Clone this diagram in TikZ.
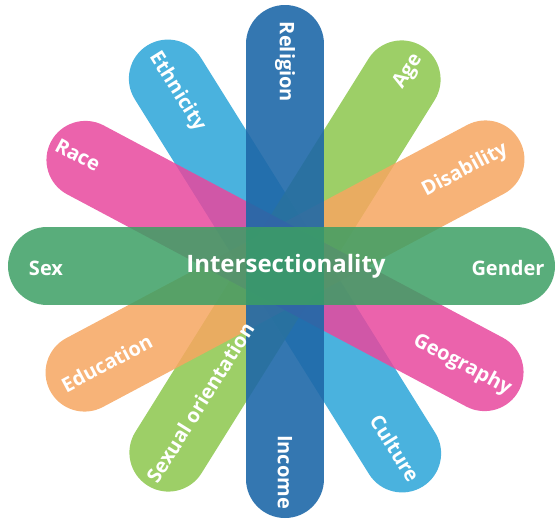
\documentclass[tikz,border=0pt]{standalone}
\usepackage{fontspec}
\setsansfont{Open Sans}
\usepackage{xcolor}

\definecolor{bandblue}{HTML}{1E68A8}
\definecolor{bandgreen}{HTML}{3C9F64}
\definecolor{bandcyan}{HTML}{2AA5D8}
\definecolor{bandpink}{HTML}{E8489E}
\definecolor{bandlime}{HTML}{8CC74C}
\definecolor{bandorange}{HTML}{F6A660}

\tikzset{
	band/.style={line width=78pt, line cap=round, opacity=0.85},
	lbl/.style={text=white, inner sep=0pt, font=\sffamily\bfseries\fontsize{20}{20}\selectfont},
	hublbl/.style={lbl, font=\sffamily\bfseries\fontsize{24}{24}\selectfont}
}

\begin{document}
\begin{tikzpicture}[x=1pt,y=1pt]
			\useasboundingbox (-285,-257) rectangle (274,266);
			% ends of the bands
			\coordinate (cyanA) at (122:221);
			\coordinate (cyanB) at (-58:221);
			\coordinate (limeA) at (58:220);
			\coordinate (limeB) at (238:220);
			\coordinate (orangeA) at (28:227);
			\coordinate (orangeB) at (208:227);
			\coordinate (pinkA) at (152:226);
			\coordinate (pinkB) at (-28:226);
			\coordinate (blueA) at (0,222);
			\coordinate (blueB) at (0,-213);
			\coordinate (greenA) at (-238,0);
			\coordinate (greenB) at (231,0);

			\draw[band, bandcyan] (cyanA) -- (cyanB);
			\draw[band, bandlime] (limeA) -- (limeB);
			\draw[band, bandorange] (orangeA) -- (orangeB);
			\draw[band, bandpink] (pinkA) -- (pinkB);
			\draw[band, bandblue, opacity=0.9] (blueA) -- (blueB);
			\draw[band, bandgreen, opacity=0.85] (greenA) -- (greenB);

			% labels
			\node[hublbl] (inter) at (1,0) {Intersectionality};
			\node[lbl] (sex) at (-239,-2) {Sex};
			\node[lbl] (gender) at (223,-2) {Gender};
			\node[lbl, rotate=-90] (religion) at (0,204) {Religion};
			\node[lbl, rotate=-90] (income) at (0,-206) {Income};
			\node[lbl, rotate=-58] (ethnicity) at (121.8:205) {Ethnicity};
			\node[lbl, rotate=-58] (culture) at (-58.9:213) {Culture};
			\node[lbl, rotate=58] (age) at (57.6:230) {Age};
			\node[lbl, rotate=58] (sexor) at (238.2:161) {Sexual orientation};
			\node[lbl, rotate=-28] (race) at (151.8:235) {Race};
			\node[lbl, rotate=-28] (geography) at (-29.2:203) {Geography};
			\node[lbl, rotate=28] (disability) at (28:204) {Disability};
			\node[lbl, rotate=28] (education) at (208.6:203) {Education};
		\end{tikzpicture}
\end{document}
